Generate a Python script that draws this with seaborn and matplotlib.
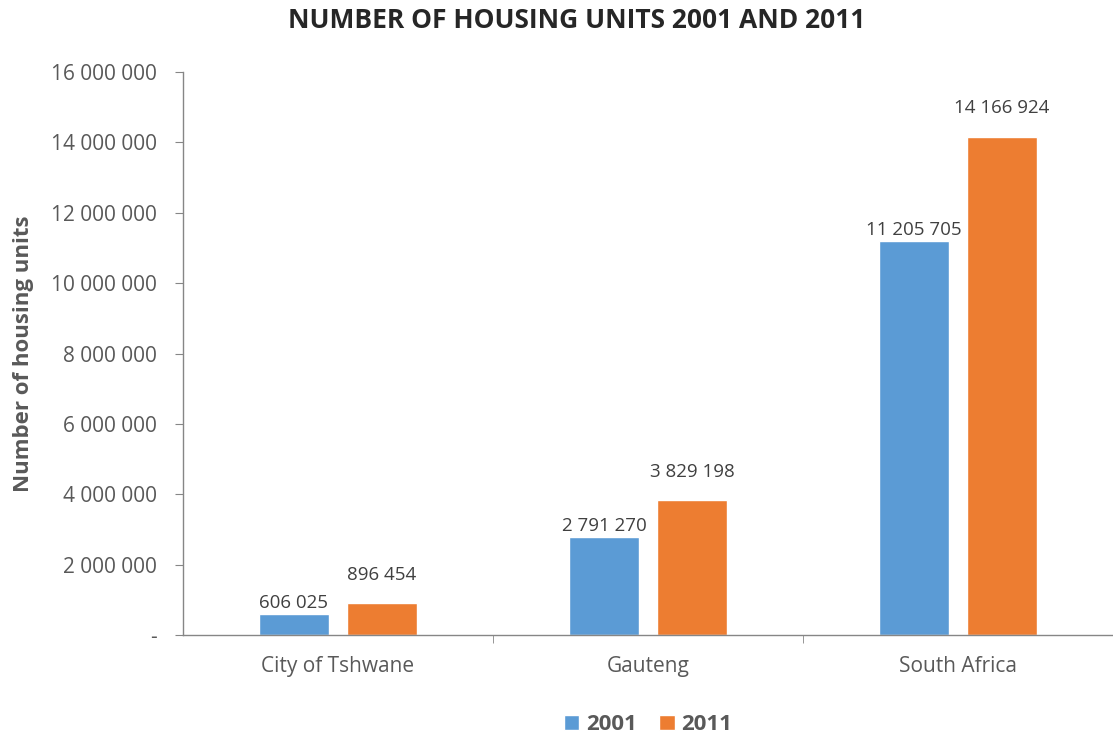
import numpy as np
import pandas as pd
import matplotlib.pyplot as plt
import matplotlib.ticker as mticker
import seaborn as sns

# data
regions = ['City of Tshwane', 'Gauteng', 'South Africa']
units_2001 = [606025, 2791270, 11205705]
units_2011 = [896454, 3829198, 14166924]
years = ['2001', '2011']

df = pd.DataFrame({
    'Region': regions * 2,
    'Year': [years[0]] * 3 + [years[1]] * 3,
    'Units': units_2001 + units_2011,
})

sns.set_style('white')
plt.rcParams['font.family'] = ['Open Sans', 'DejaVu Sans']
grey = '#595959'

fig = plt.figure(figsize=(11.13, 7.37), dpi=100)
ax = fig.add_axes([0.1644, 0.1384, 0.8356, 0.7639])

palette = {'2001': '#5B9BD5', '2011': '#ED7D31'}
sns.barplot(data=df, x='Region', y='Units', hue='Year', palette=palette,
            width=0.568, gap=0.2, saturation=1, ax=ax)


def fmt(v):
    return f'{int(v):,}'.replace(',', ' ')


# value labels
offsets = {'2001': 1, '2011': 14}
for cont, yr in zip(ax.containers, years):
    for bar in cont:
        h = bar.get_height()
        ax.annotate(fmt(h), (bar.get_x() + bar.get_width() / 2, h),
                    xytext=(0, offsets[yr]), textcoords='offset points',
                    ha='center', va='bottom', fontsize=13.5, color='#404040')

ax.set_ylim(0, 16000000)
ax.set_xlim(-0.5, 2.5)
ax.yaxis.set_major_locator(mticker.MultipleLocator(2000000))
ax.yaxis.set_major_formatter(mticker.FuncFormatter(lambda v, p: '-' if v == 0 else fmt(v)))
ax.tick_params(axis='y', labelsize=15, labelcolor=grey, length=6, color='#868686', pad=13,
               left=True)
ax.tick_params(axis='x', labelsize=15, labelcolor=grey, length=0, pad=15)
ax.set_xticks([0.5, 1.5], minor=True)
ax.tick_params(axis='x', which='minor', length=6, color='#868686', bottom=True)

for s in ['top', 'right']:
    ax.spines[s].set_visible(False)
for s in ['left', 'bottom']:
    ax.spines[s].set_color('#868686')
    ax.spines[s].set_linewidth(1)

ax.set_xlabel('')
ax.set_ylabel('Number of housing units', fontsize=16, fontweight='bold', color=grey, labelpad=12)
fig.suptitle('NUMBER OF HOUSING UNITS 2001 AND 2011', fontsize=19, fontweight='bold',
             y=0.99, x=0.518)

leg = ax.legend(loc='upper center', bbox_to_anchor=(0.5, -0.105), ncol=2, frameon=False,
                handlelength=0.7, handleheight=0.7, columnspacing=1.0, handletextpad=0.3,
                prop={'weight': 'bold', 'size': 16})
for t in leg.get_texts():
    t.set_color(grey)

fig.savefig('out.png', dpi=100)
